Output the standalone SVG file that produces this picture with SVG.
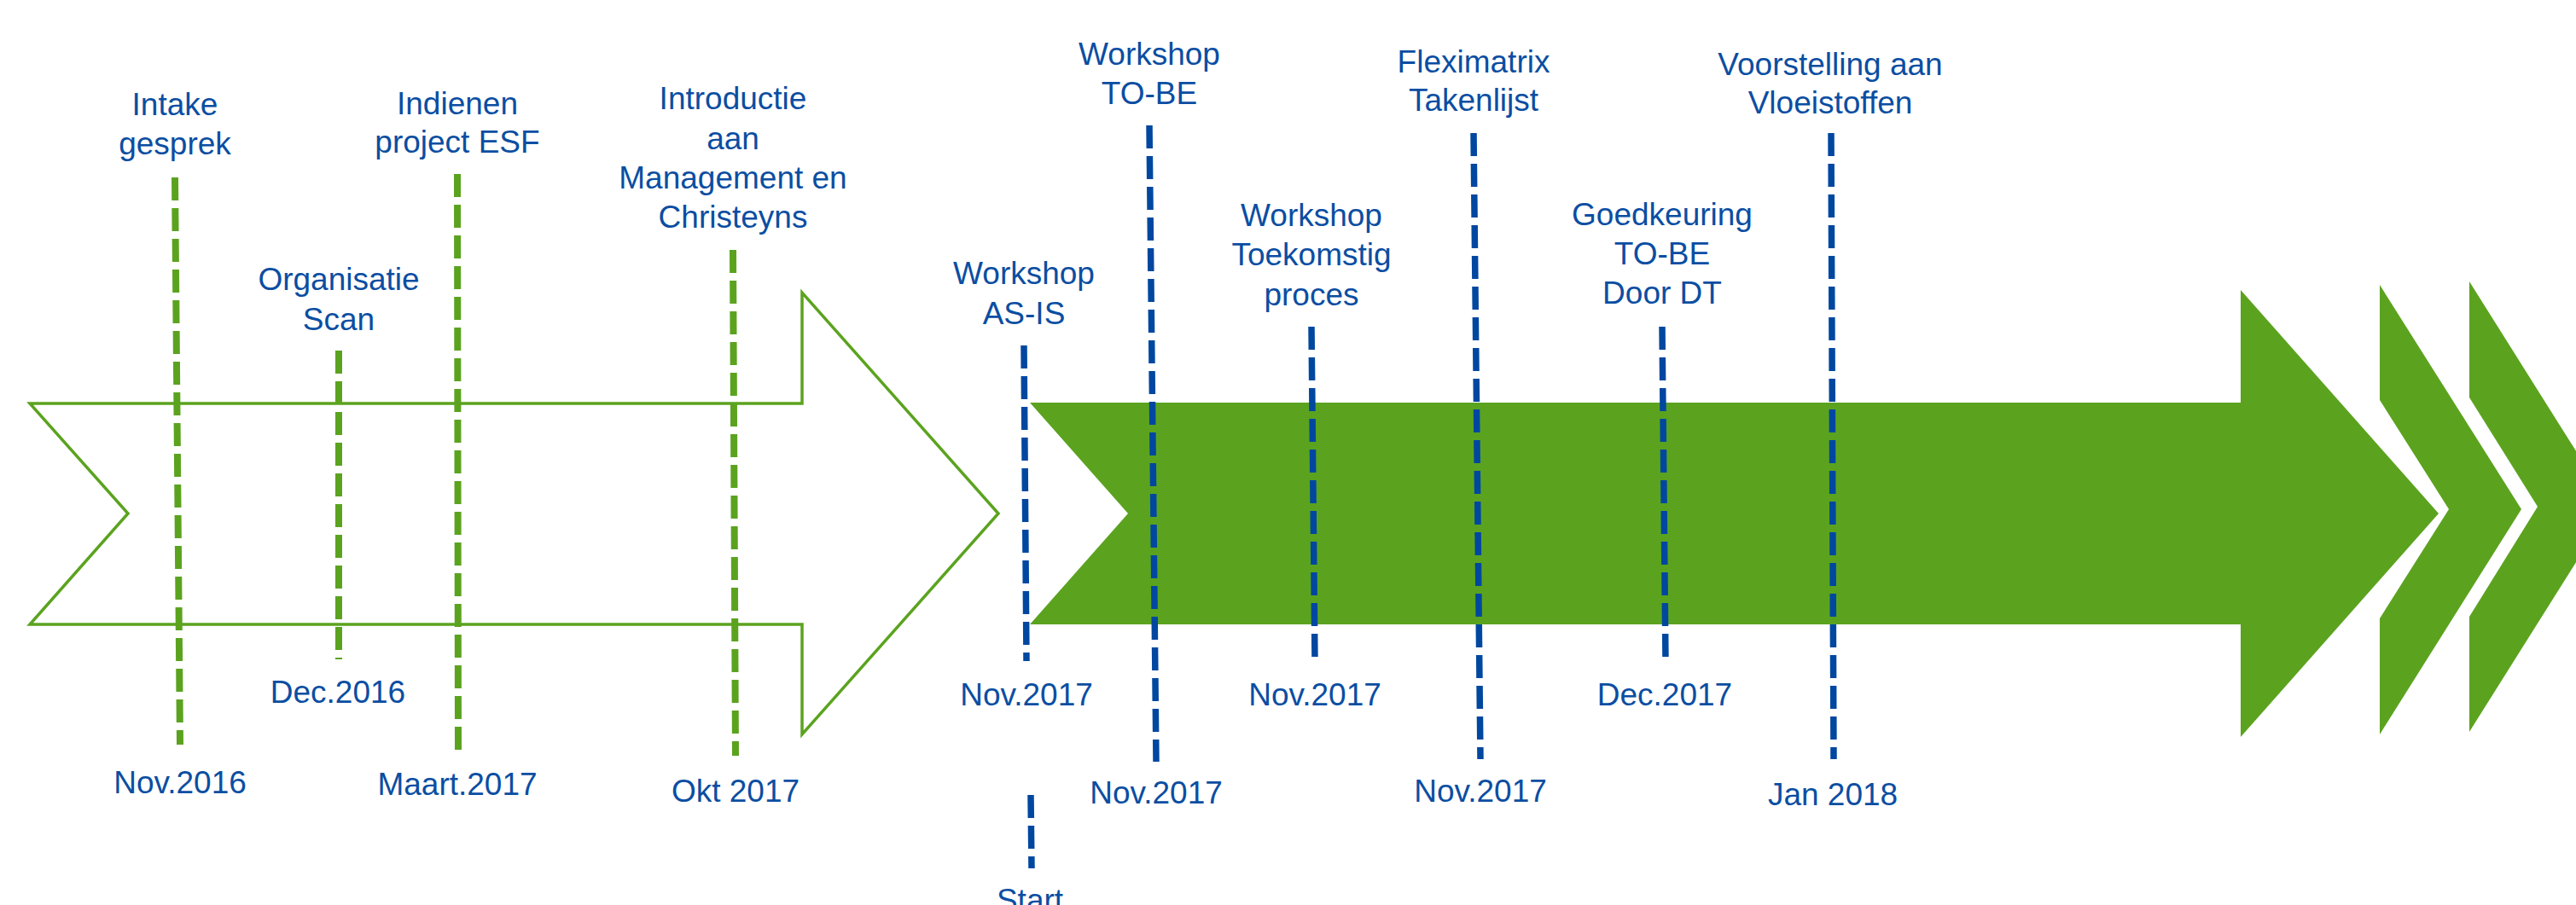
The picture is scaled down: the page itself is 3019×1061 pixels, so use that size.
<svg xmlns="http://www.w3.org/2000/svg" width="3019" height="1061" viewBox="0 0 3019 1061">
<style>
.t{font-family:"Liberation Sans",Arial,sans-serif;font-size:37px;fill:#0b4ea2;text-anchor:middle}
.g{stroke:#5ba31f;stroke-width:8;stroke-dasharray:27 9;fill:none}
.b{stroke:#0047a0;stroke-width:7.5;stroke-dasharray:27 9;fill:none}
</style>
<rect width="3019" height="1061" fill="#ffffff"/>
<g id="arrows">
<polygon points="35,473 940,473 940,343 1170,602 940,861 940,732 35,732 150,602" fill="none" stroke="#5ba31f" stroke-width="3.5"/>
<polygon points="1207,472 2626,472 2626,340 2858,602 2626,864 2626,732 1207,732 1322,602" fill="#5ba31f"/>
<polygon points="2789,334 2955,597 2789,861 2789,725 2870,597 2789,469" fill="#5ba31f"/>
<polygon points="2894,330 3060,594 2894,858 2894,723 2974,594 2894,466" fill="#5ba31f"/>
</g>
<g id="connectors">
<line class="g" x1="205" y1="208" x2="211" y2="873"/>
<line class="g" x1="397" y1="411" x2="397" y2="773"/>
<line class="g" x1="536" y1="204" x2="537" y2="881"/>
<line class="g" x1="859" y1="293" x2="862" y2="886"/>
<line class="b" x1="1200" y1="405" x2="1203" y2="775"/>
<line class="b" x1="1347" y1="147" x2="1355" y2="893"/>
<line class="b" x1="1537" y1="383" x2="1541" y2="775"/>
<line class="b" x1="1727" y1="156" x2="1735" y2="890"/>
<line class="b" x1="1948" y1="383" x2="1952" y2="775"/>
<line class="b" x1="2146" y1="156" x2="2149" y2="890"/>
<line class="b" x1="1208" y1="932" x2="1209" y2="1018"/>
</g>
<g id="intake">
<text class="t" x="205" y="135">Intake</text>
<text class="t" x="205" y="181">gesprek</text>
<text class="t" x="211" y="930">Nov.2016</text>
</g>
<g id="organisatie">
<text class="t" x="397" y="340">Organisatie</text>
<text class="t" x="397" y="387">Scan</text>
<text class="t" x="396" y="824">Dec.2016</text>
</g>
<g id="indienen">
<text class="t" x="536" y="134">Indienen</text>
<text class="t" x="536" y="179">project ESF</text>
<text class="t" x="536" y="932">Maart.2017</text>
</g>
<g id="introductie">
<text class="t" x="859" y="128">Introductie</text>
<text class="t" x="859" y="175">aan</text>
<text class="t" x="859" y="221">Management en</text>
<text class="t" x="859" y="267">Christeyns</text>
<text class="t" x="862" y="940">Okt 2017</text>
</g>
<g id="workshop-asis">
<text class="t" x="1200" y="333">Workshop</text>
<text class="t" x="1200" y="380">AS-IS</text>
<text class="t" x="1203" y="827">Nov.2017</text>
</g>
<g id="start">
<text class="t" x="1207" y="1068">Start</text>
</g>
<g id="workshop-tobe">
<text class="t" x="1347" y="76">Workshop</text>
<text class="t" x="1347" y="122">TO-BE</text>
<text class="t" x="1355" y="942">Nov.2017</text>
</g>
<g id="workshop-toekomstig">
<text class="t" x="1537" y="265">Workshop</text>
<text class="t" x="1537" y="311">Toekomstig</text>
<text class="t" x="1537" y="358">proces</text>
<text class="t" x="1541" y="827">Nov.2017</text>
</g>
<g id="fleximatrix">
<text class="t" x="1727" y="85">Fleximatrix</text>
<text class="t" x="1727" y="130">Takenlijst</text>
<text class="t" x="1735" y="940">Nov.2017</text>
</g>
<g id="goedkeuring">
<text class="t" x="1948" y="264">Goedkeuring</text>
<text class="t" x="1948" y="310">TO-BE</text>
<text class="t" x="1948" y="356">Door DT</text>
<text class="t" x="1951" y="827">Dec.2017</text>
</g>
<g id="voorstelling">
<text class="t" x="2145" y="88">Voorstelling aan</text>
<text class="t" x="2145" y="133">Vloeistoffen</text>
<text class="t" x="2148" y="944">Jan 2018</text>
</g>
</svg>
